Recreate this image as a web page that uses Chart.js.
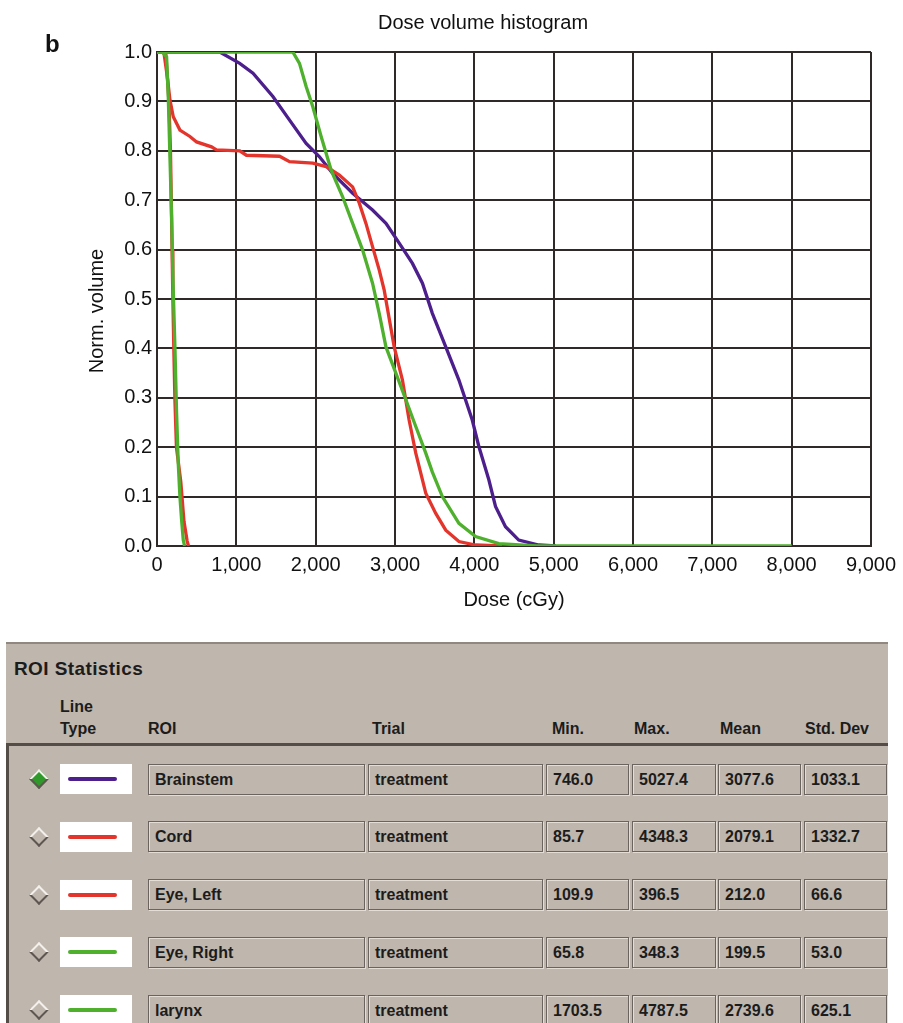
<!DOCTYPE html>
<html>
<head>
<meta charset="UTF-8">
<title>Dose volume histogram</title>
<script src="https://cdn.jsdelivr.net/npm/chart.js@4.4.0/dist/chart.umd.min.js"></script>
<style>
    body { margin: 0; background: #fff; font-family: "Liberation Sans", Arial, sans-serif; color: #1c1c1c; }
    #page { position: relative; width: 903px; height: 1023px; overflow: hidden; }
    #dvh { position: absolute; left: 0; top: 0; }
    #tag { position: absolute; left: 45px; top: 30px; font: bold 24px "Liberation Sans", Arial, sans-serif; color: #111; }
    #roi { position: absolute; left: 6px; top: 642px; width: 882px; height: 400px; background: #bfb6ad; border-top: 2px solid #8f8780; }
    #roi .abs { position: absolute; white-space: nowrap; }
    #roi .hd { font: bold 16px "Liberation Sans", Arial, sans-serif; }
    #roi h3 { position: absolute; left: 8px; top: 14px; margin: 0; font: bold 19px "Liberation Sans", Arial, sans-serif; letter-spacing: 0.4px; }
    #well { position: absolute; left: 0; top: 99px; width: 879px; height: 320px; border-top: 3px solid #544d47; border-left: 3px solid #544d47; }
    .field { position: absolute; height: 31px; box-sizing: border-box; border: 1px solid #6b645e;
             box-shadow: inset 1px 1px 0 #e4ddd6, 1px 1px 0 #e4ddd6; font: bold 16px "Liberation Sans", Arial, sans-serif;
             line-height: 29px; padding-left: 6px; }
    .swatch { position: absolute; width: 72px; height: 30px; background: #fff; }
    .swatch i { position: absolute; left: 8px; top: 13px; width: 49px; height: 4px; border-radius: 2px; }
    .pick { position: absolute; width: 14px; height: 14px; transform: rotate(45deg); box-sizing: border-box;
            border: 2px solid; border-color: #f3efeb #5e5650 #5e5650 #f3efeb; }
    .pick.on { background: #2f9a2a; }
</style>
</head>
<body>
<div id="page">
    <canvas id="dvh" width="903" height="620"></canvas>
    <div id="tag">b</div>
    <div id="roi">
        <h3>ROI Statistics</h3>
        <div class="abs hd" style="left:54px;top:54px">Line</div>
        <div class="abs hd" style="left:54px;top:76px">Type</div>
        <div class="abs hd" style="left:142px;top:76px">ROI</div>
        <div class="abs hd" style="left:366px;top:76px">Trial</div>
        <div class="abs hd" style="left:546px;top:76px">Min.</div>
        <div class="abs hd" style="left:628px;top:76px">Max.</div>
        <div class="abs hd" style="left:714px;top:76px">Mean</div>
        <div class="abs hd" style="left:799px;top:76px">Std. Dev</div>
        <div id="well"></div>
    </div>
</div>
<script>
    // cumulative DVH curves, dose in cGy / normalised volume
    const brainstemDose = [0, 791, 1043, 1210, 1461, 1671, 1880, 2048, 2215, 2466, 2717, 2886, 3053, 3220, 3346, 3471, 3640, 3806, 3974, 4058, 4183, 4267, 4393, 4560, 4812, 5027];
    const brainstemVol  = [1, 1, 0.977, 0.957, 0.91, 0.862, 0.815, 0.788, 0.754, 0.714, 0.68, 0.653, 0.613, 0.572, 0.532, 0.471, 0.403, 0.336, 0.255, 0.201, 0.134, 0.08, 0.039, 0.012, 0.002, 0];

    const cordDose = [0, 86, 130, 163, 205, 289, 415, 499, 687, 750, 1043, 1127, 1545, 1671, 1964, 2132, 2299, 2466, 2550, 2634, 2717, 2801, 2864, 2990, 3094, 3178, 3262, 3388, 3514, 3640, 3806, 4016, 4348];
    const cordVol  = [1, 1, 0.95, 0.903, 0.869, 0.842, 0.829, 0.818, 0.808, 0.802, 0.8, 0.791, 0.789, 0.778, 0.775, 0.768, 0.751, 0.727, 0.694, 0.653, 0.606, 0.559, 0.518, 0.403, 0.336, 0.255, 0.188, 0.107, 0.066, 0.032, 0.009, 0.002, 0];

    const eyeLeftDose = [0, 110, 150, 170, 190, 200, 212, 225, 245, 300, 340, 380, 397];
    const eyeLeftVol  = [1, 1, 0.9, 0.8, 0.6, 0.5, 0.4, 0.3, 0.2, 0.13, 0.05, 0.01, 0];

    const eyeRightDose = [0, 66, 121, 142, 163, 184, 197, 205, 226, 247, 268, 289, 310, 331, 348];
    const eyeRightVol  = [1, 1, 0.99, 0.91, 0.788, 0.667, 0.572, 0.518, 0.403, 0.269, 0.167, 0.1, 0.053, 0.012, 0];

    const larynxDose = [0, 1712, 1796, 1880, 1964, 2069, 2195, 2340, 2466, 2592, 2717, 2801, 2886, 3011, 3137, 3262, 3388, 3470, 3597, 3806, 4016, 4309, 4787, 8000];
    const larynxVol  = [1, 1, 0.977, 0.93, 0.889, 0.829, 0.761, 0.707, 0.653, 0.599, 0.532, 0.471, 0.403, 0.35, 0.296, 0.242, 0.188, 0.15, 0.1, 0.046, 0.019, 0.005, 0, 0];

    // ROI statistics table
    const roiNames  = ['Brainstem', 'Cord', 'Eye, Left', 'Eye, Right', 'larynx'];
    const trialName = 'treatment';
    const minDose   = [746.0, 85.7, 109.9, 65.8, 1703.5];
    const maxDose   = [5027.4, 4348.3, 396.5, 348.3, 4787.5];
    const meanDose  = [3077.6, 2079.1, 212.0, 199.5, 2739.6];
    const stdDose   = [1033.1, 1332.7, 66.6, 53.0, 625.1];
    const roiColors = ['#4c1f8c', '#e4352c', '#e4352c', '#4fb02e', '#4fb02e'];

    const doseTicks = [0, 1000, 2000, 3000, 4000, 5000, 6000, 7000, 8000, 9000];

    const curves = [
        [brainstemDose, brainstemVol],
        [cordDose, cordVol],
        [eyeLeftDose, eyeLeftVol],
        [eyeRightDose, eyeRightVol],
        [larynxDose, larynxVol]
    ];

    const FONT = '"Liberation Sans", Arial, sans-serif';

    // heading and rotated y caption
    const captions = {
        id: 'captions',
        afterDraw(chart) {
            const ctx = chart.ctx;
            ctx.save();
            ctx.fillStyle = '#111';
            ctx.font = '20px ' + FONT;
            ctx.textAlign = 'center';
            ctx.textBaseline = 'alphabetic';
            ctx.fillText('Dose volume histogram', 483, 29);
            ctx.translate(103, 311);
            ctx.rotate(-Math.PI / 2);
            ctx.fillText('Norm. volume', 0, 0);
            ctx.restore();
        }
    };

    new Chart(document.getElementById('dvh'), {
        type: 'scatter',
        data: {
            datasets: curves.map((c, i) => ({
                label: roiNames[i],
                data: c[0].map((d, k) => ({ x: d, y: c[1][k] })),
                showLine: true,
                borderColor: roiColors[i],
                borderWidth: 3.3,
                pointRadius: 0,
                tension: 0,
                order: curves.length - i
            }))
        },
        options: {
            responsive: false,
            animation: false,
            events: [],
            layout: { padding: { left: 0, top: 52, right: 30, bottom: 0 } },
            plugins: { legend: { display: false }, tooltip: { enabled: false } },
            scales: {
                x: {
                    type: 'linear', min: 0, max: 9000,
                    afterFit: s => { s.height = 74; },
                    afterBuildTicks: s => { s.ticks = doseTicks.map(v => ({ value: v })); },
                    grid: { color: '#2f2a27', lineWidth: 2, drawTicks: false },
                    border: { color: '#2f2a27', width: 2 },
                    ticks: { padding: 7, color: '#111', font: { family: FONT, size: 20 },
                             maxRotation: 0, callback: v => v.toLocaleString('en-US') },
                    title: { display: true, text: 'Dose (cGy)', color: '#111',
                             font: { family: FONT, size: 20 }, padding: { top: 0, bottom: 8 } }
                },
                y: {
                    type: 'linear', min: 0, max: 1,
                    afterFit: s => { s.width = 157; },
                    grid: { color: '#2f2a27', lineWidth: 2, drawTicks: false },
                    border: { color: '#2f2a27', width: 2 },
                    ticks: { stepSize: 0.1, padding: 5, color: '#111', font: { family: FONT, size: 20 },
                             callback: v => v.toFixed(1) }
                }
            }
        },
        plugins: [captions]
    });

    // build the statistics rows
    const roi = document.getElementById('roi');
    const cols = [
        { left: 142, width: 217, text: i => roiNames[i] },
        { left: 362, width: 175, text: () => trialName },
        { left: 540, width: 83,  text: i => minDose[i].toFixed(1) },
        { left: 626, width: 84,  text: i => maxDose[i].toFixed(1) },
        { left: 712, width: 83,  text: i => meanDose[i].toFixed(1) },
        { left: 798, width: 83,  text: i => stdDose[i].toFixed(1) }
    ];
    roiNames.forEach((name, i) => {
        const cy = 135 + i * 57.75;
        const pick = document.createElement('div');
        pick.className = 'pick' + (i === 0 ? ' on' : '');
        pick.style.left = '26px';
        pick.style.top = (cy - 7) + 'px';
        roi.appendChild(pick);

        const sw = document.createElement('div');
        sw.className = 'swatch';
        sw.style.left = '54px';
        sw.style.top = (cy - 15) + 'px';
        const bar = document.createElement('i');
        bar.style.background = roiColors[i];
        sw.appendChild(bar);
        roi.appendChild(sw);

        cols.forEach(c => {
            const f = document.createElement('div');
            f.className = 'field';
            f.style.left = c.left + 'px';
            f.style.width = c.width + 'px';
            f.style.top = (cy - 15.5) + 'px';
            f.textContent = c.text(i);
            roi.appendChild(f);
        });
    });
</script>
</body>
</html>
